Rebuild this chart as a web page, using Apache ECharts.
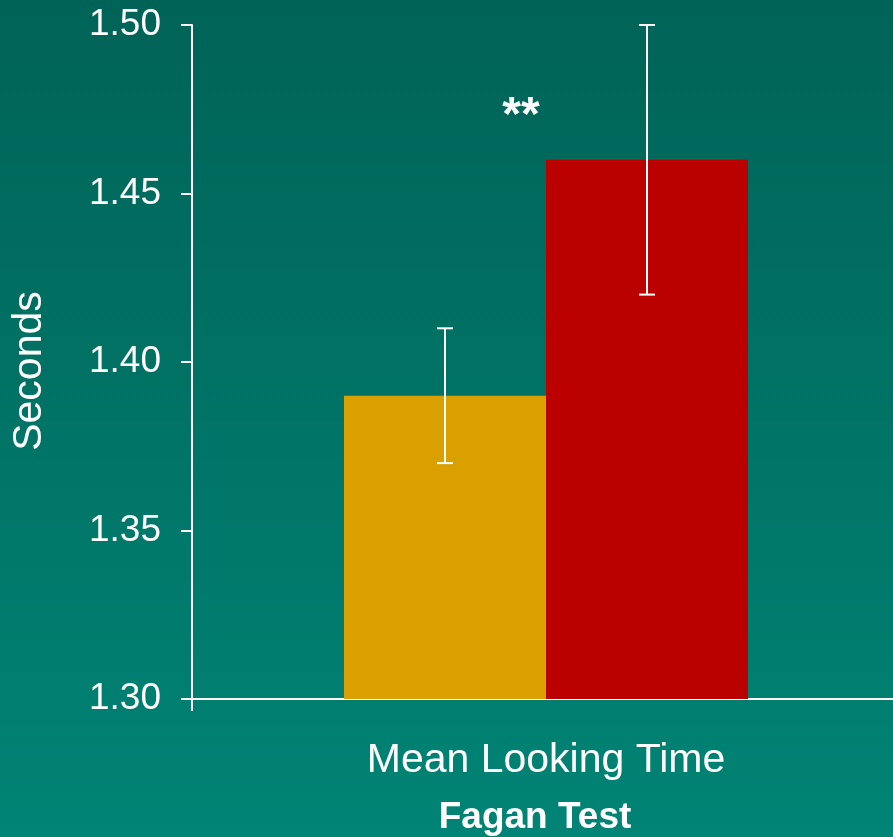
<!DOCTYPE html>
<html>
<head>
<meta charset="utf-8">
<script src="https://cdn.jsdelivr.net/npm/echarts@6/dist/echarts.min.js"></script>
<style>
html,body{margin:0;padding:0;background:#007565;}
#chart{width:893px;height:837px;}
</style>
</head>
<body>
<div id="chart"></div>
<script>
const categories = ['Mean Looking Time'];
const group1Values = [1.39];
const group2Values = [1.46];
const group1Err = [[1.37, 1.41]];
const group2Err = [[1.42, 1.50]];
const yTicks = [1.30, 1.35, 1.40, 1.45, 1.50];
const xAxisTitle = 'Fagan Test';
const yAxisTitle = 'Seconds';
const sigMark = '**';

const FONT = 'Liberation Sans, Arial, sans-serif';
const BAR_W = 202;

function errRender(offset) {
  return function (params, api) {
    const lo = api.coord([api.value(0), api.value(1)]);
    const hi = api.coord([api.value(0), api.value(2)]);
    const x = lo[0] + offset;
    const cap = 8;
    const st = { stroke: '#ffffff', lineWidth: 2 };
    return {
      type: 'group',
      children: [
        { type: 'line', shape: { x1: x, y1: lo[1], x2: x, y2: hi[1] }, style: st },
        { type: 'line', shape: { x1: x - cap, y1: lo[1], x2: x + cap, y2: lo[1] }, style: st },
        { type: 'line', shape: { x1: x - cap, y1: hi[1], x2: x + cap, y2: hi[1] }, style: st }
      ]
    };
  };
}

const chart = echarts.init(document.getElementById('chart'), null, { renderer: 'canvas' });
chart.setOption({
  animation: false,
  backgroundColor: {
    type: 'linear', x: 0, y: 0, x2: 0, y2: 1,
    colorStops: [{ offset: 0, color: '#006357' }, { offset: 1, color: '#008475' }]
  },
  grid: { left: 192, top: 25, width: 708, bottom: 138, containLabel: false, outerBoundsMode: 'none' },
  xAxis: {
    type: 'category',
    data: categories,
    name: xAxisTitle,
    nameLocation: 'middle',
    nameGap: 100,
    nameTextStyle: { color: '#ffffff', fontSize: 37, fontWeight: 'bold', fontFamily: FONT,
      padding: [0, 22, 0, 0] },
    axisLine: { lineStyle: { color: '#ffffff', width: 2 } },
    axisTick: { show: true, length: 12, lineStyle: { color: '#ffffff', width: 2 } },
    axisLabel: { color: '#ffffff', fontSize: 41, fontFamily: FONT, margin: 41 },
    splitLine: { show: false }
  },
  yAxis: {
    type: 'value',
    min: yTicks[0],
    max: yTicks[yTicks.length - 1],
    interval: 0.05,
    axisLine: { show: true, lineStyle: { color: '#ffffff', width: 2 } },
    axisTick: { show: true, length: 11, lineStyle: { color: '#ffffff', width: 2 } },
    axisLabel: { color: '#ffffff', fontSize: 37, fontFamily: FONT, margin: 31,
      formatter: v => v.toFixed(2) },
    splitLine: { show: false }
  },
  graphic: [
    { type: 'text', x: 30, y: 371, rotation: Math.PI / 2,
      style: { text: yAxisTitle, fill: '#ffffff', font: '41px ' + FONT, align: 'center', verticalAlign: 'middle' } },
    { type: 'text', x: 521, y: 117,
      style: { text: sigMark, fill: '#ffffff', font: 'bold 48px ' + FONT, align: 'center', verticalAlign: 'middle' } }
  ],
  series: [
    { type: 'bar', data: group1Values, barWidth: BAR_W, barGap: '0%',
      itemStyle: { color: '#D9A000' } },
    { type: 'bar', data: group2Values, barWidth: BAR_W, barGap: '0%',
      itemStyle: { color: '#BB0000' } },
    { type: 'custom', renderItem: errRender(-BAR_W / 2), z: 5,
      data: group1Err.map((e, i) => [i, e[0], e[1]]) },
    { type: 'custom', renderItem: errRender(BAR_W / 2), z: 5,
      data: group2Err.map((e, i) => [i, e[0], e[1]]) }
  ]
});
</script>
</body>
</html>
